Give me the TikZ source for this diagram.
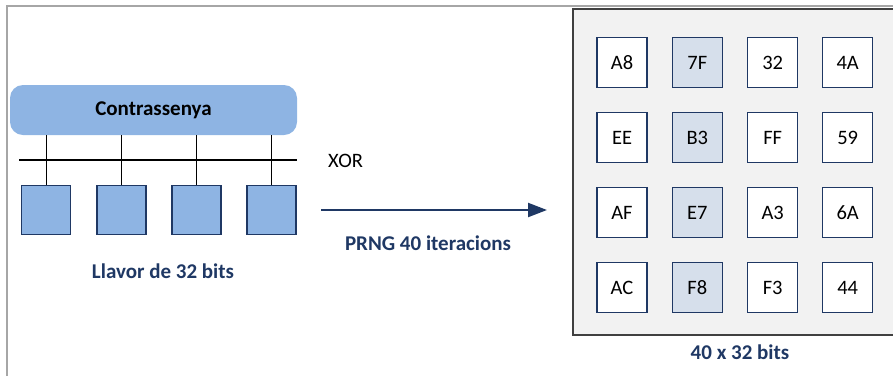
\documentclass[tikz,border=0pt]{standalone}
\usepackage{fontspec}
\setmainfont{Carlito}
\usetikzlibrary{arrows.meta}
\definecolor{navy}{HTML}{1F3864}
\definecolor{keyblue}{HTML}{8EB4E3}
\definecolor{colblue}{HTML}{D6DFEB}
\definecolor{panel}{HTML}{F2F2F2}
\definecolor{frame}{HTML}{A6A6A6}
\definecolor{panelborder}{HTML}{404040}
\tikzset{
  txt/.style={font=\fontsize{20.5}{22}\selectfont},
  btxt/.style={font=\fontsize{21}{23}\selectfont\bfseries, text=navy},
  keybox/.style={draw=navy, line width=1.5pt, fill=keyblue, minimum width=49pt, minimum height=49pt, inner sep=0pt},
  cell/.style={draw=navy, line width=1.5pt, fill=white, minimum width=50pt, minimum height=50pt, inner sep=0pt, txt},
  hcell/.style={cell, fill=colblue},
  link/.style={line width=1pt, draw=black},
}
\begin{document}
\begin{tikzpicture}[x=1pt, y=-1pt]
\useasboundingbox (0,0) rectangle (893,376);
% outer frame
\draw[frame, line width=2pt] (7,376) -- (7,6) -- (893,6);

% password bar
\node[fill=keyblue, rounded corners=13pt, minimum width=287pt, minimum height=50pt, inner sep=0pt,
      font=\fontsize{21}{23}\selectfont\bfseries] (pwd) at (153.5,110) {Contrassenya};

% XOR bus
\coordinate (busL) at (19,160);
\coordinate (busR) at (297,160);
\draw[line width=2.5pt] (busL) -- (busR);
\node[txt, anchor=west, inner sep=0pt] (xor) at (328,161) {XOR};

% 32-bit key blocks
\foreach \i/\x in {1/46, 2/121.5, 3/196.5, 4/271.5} {
  \node[keybox] (k\i) at (\x,210) {};
  \draw[link] (k\i.north) -- (k\i.north |- pwd.south);
}
\node[btxt] (keylbl) at (163,271) {Llavor de 32 bits};

% PRNG arrow
\coordinate (arrS) at (321,210);
\coordinate (arrE) at (547,210);
\draw[navy, line width=2.2pt, -{Triangle[length=19pt, width=14pt]}] (arrS) -- (arrE);
\node[btxt] (prng) at (428,243) {PRNG 40 iteracions};

% generated table
\fill[panel] (573,9) rectangle (893,335);
\draw[panelborder, line width=1.5pt] (893,9) -- (573,9) -- (573,335) -- (893,335);
\node[btxt] (tbllbl) at (740,352) {40 x 32 bits};

\foreach \r/\y/\a/\b/\c/\d in {1/62.5/A8/7F/32/4A, 2/137.5/EE/B3/FF/59, 3/212.5/AF/E7/A3/6A, 4/287.7/AC/F8/F3/44} {
  \node[cell]  (c\r1) at (622,\y)   {\a};
  \node[hcell] (c\r2) at (697.3,\y) {\b};
  \node[cell]  (c\r3) at (772.7,\y) {\c};
  \node[cell]  (c\r4) at (847.7,\y) {\d};
}
\end{tikzpicture}
\end{document}
